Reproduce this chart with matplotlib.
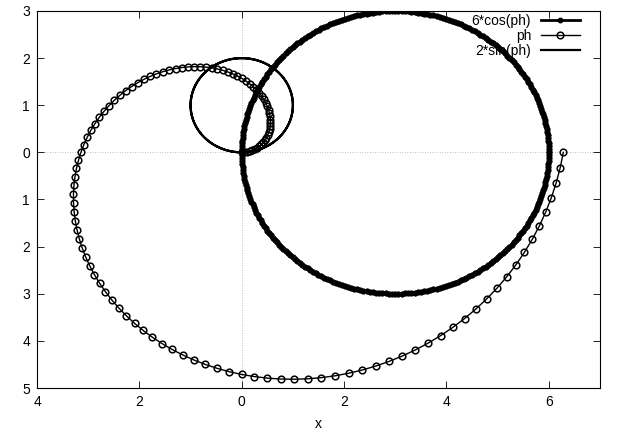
import numpy as np
import matplotlib.pyplot as plt
from matplotlib.ticker import FuncFormatter, MultipleLocator

# polar functions, as named in the legend
labels = ['6*cos(ph)', 'ph', '2*sin(ph)']
ph_cos = np.linspace(0, 2 * np.pi, 601)
ph_spiral = np.linspace(0, 2 * np.pi, 121)
ph_sin = np.linspace(0, 2 * np.pi, 301)

r_cos = 6 * np.cos(ph_cos)
r_spiral = ph_spiral
r_sin = 2 * np.sin(ph_sin)

plt.rcParams['font.family'] = ['Liberation Sans', 'DejaVu Sans']

fig = plt.figure(figsize=(6.2, 4.36), dpi=100)
ax = fig.add_axes([37 / 620, 1 - 388 / 436, (600 - 37) / 620, (388 - 11) / 436])

ax.axhline(0, color='#aaaaaa', lw=0.6, ls=(0, (1, 2)), zorder=0)
ax.axvline(0, color='#aaaaaa', lw=0.6, ls=(0, (1, 2)), zorder=0)

ax.plot(r_cos * np.cos(ph_cos), r_cos * np.sin(ph_cos), color='black', lw=2.0,
        marker='o', ms=3.2, markerfacecolor='black', label=labels[0])
ax.plot(r_spiral * np.cos(ph_spiral), r_spiral * np.sin(ph_spiral), color='black', lw=1.0,
        marker='o', ms=4.8, mew=1.1, markerfacecolor='none', label=labels[1])
ax.plot(r_sin * np.cos(ph_sin), r_sin * np.sin(ph_sin), color='black', lw=1.6,
        label=labels[2])

ax.set_xlim(-4, 7)
ax.set_ylim(-5, 3)
ax.xaxis.set_major_locator(MultipleLocator(2))
ax.yaxis.set_major_locator(MultipleLocator(1))
nominus = FuncFormatter(lambda v, pos: '%d' % abs(round(v)))
ax.xaxis.set_major_formatter(nominus)
ax.yaxis.set_major_formatter(nominus)
ax.tick_params(direction='in', length=5, width=0.6, top=True, right=True,
               labelsize=10, pad=5)
for s in ax.spines.values():
    s.set_linewidth(0.8)

ax.set_xlabel('x', fontsize=10, labelpad=6)

ax.legend(loc='upper right', bbox_to_anchor=(0.974, 1.006), frameon=False,
          markerfirst=False, fontsize=10, handlelength=2.8, handletextpad=0.7,
          labelspacing=0.05, borderaxespad=0)

fig.savefig('out.png', dpi=100)
